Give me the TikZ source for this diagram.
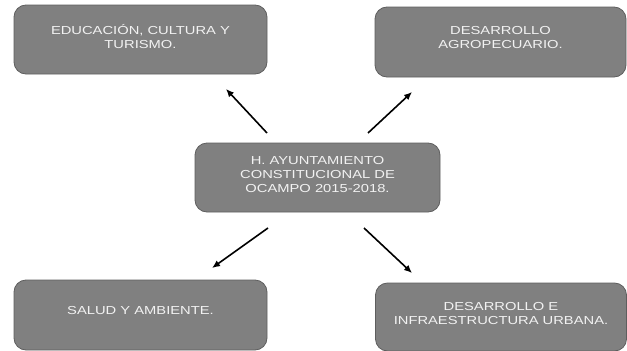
\documentclass[tikz,border=0pt]{standalone}
\usepackage{fontspec}
\setmainfont[FakeStretch=1.27]{Liberation Sans}
\usetikzlibrary{arrows.meta}
\definecolor{boxfill}{HTML}{808080}
\definecolor{boxline}{HTML}{5E5E5E}
\definecolor{boxtext}{HTML}{F2F2F2}
\tikzset{
  areabox/.style={draw=boxline, line width=0.8pt, fill=boxfill, rounded corners=12pt,
    inner sep=0pt, outer sep=0pt},
  areatext/.style={text=boxtext, align=center, inner sep=0pt,
    font=\fontsize{11.6}{14}\selectfont},
  link/.style={line width=1.6pt, -{Latex[length=8pt,width=7pt]}}
}
\begin{document}
\begin{tikzpicture}[x=1pt,y=-1pt]
\useasboundingbox (0,0) rectangle (627,351);
% boxes
\node[areabox, minimum width=253pt, minimum height=69pt] (edu) at (140.5,39.5) {};
\node[areabox, minimum width=251pt, minimum height=70pt] (agro) at (500.5,42) {};
\node[areabox, minimum width=245pt, minimum height=69pt] (ayto) at (317.5,177.5) {};
\node[areabox, minimum width=253pt, minimum height=70pt] (salud) at (140.5,315) {};
\node[areabox, minimum width=251pt, minimum height=68pt] (infra) at (501,317) {};
% labels
\node[areatext] (edut) at ([yshift=3pt]edu.center) {EDUCACIÓN, CULTURA Y\\TURISMO.};
\node[areatext] (agrot) at ([yshift=4pt]agro.center) {DESARROLLO\\AGROPECUARIO.};
\node[areatext] (aytot) at ([yshift=3pt]ayto.center) {H. AYUNTAMIENTO\\CONSTITUCIONAL DE\\OCAMPO 2015-2018.};
\node[areatext] (saludt) at ([yshift=4pt]salud.center) {SALUD Y AMBIENTE.};
\node[areatext] (infrat) at ([yshift=3pt]infra.center) {DESARROLLO E\\INFRAESTRUCTURA URBANA.};
% arrow end points
\coordinate (s1) at (267,133);  \coordinate (t1) at (226,89);
\coordinate (s2) at (368,133);  \coordinate (t2) at (412,92);
\coordinate (s3) at (268,228);  \coordinate (t3) at (212,268);
\coordinate (s4) at (364,228);  \coordinate (t4) at (412,273);
\draw[link] (s1) -- (t1);
\draw[link] (s2) -- (t2);
\draw[link] (s3) -- (t3);
\draw[link] (s4) -- (t4);
\end{tikzpicture}
\end{document}
